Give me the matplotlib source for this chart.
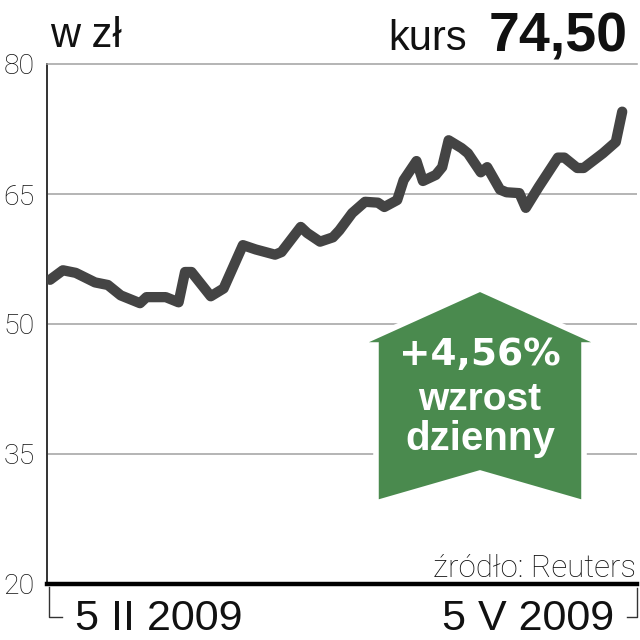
import matplotlib
matplotlib.use("Agg")
import matplotlib.pyplot as plt
from matplotlib.patches import Polygon
from matplotlib.lines import Line2D


# dni od 5 II 2009 i kurs zamkniecia
DAYS = [0, 2, 4, 7, 9, 11, 14, 15, 18, 20, 21, 22, 25, 27, 30, 32, 35, 36,
        39, 40, 42, 44, 45, 47, 49, 51, 52, 54, 55, 57, 58, 60, 61, 62, 64,
        65, 67, 68, 70, 71, 73, 74, 76, 79, 80, 82, 83, 86, 88, 89]
PRICE = [55.1, 56.2, 55.9, 54.8, 54.5, 53.3, 52.4, 53.1, 53.1, 52.5, 56.0,
         56.0, 53.2, 54.1, 59.1, 58.6, 58.0, 58.3, 61.2, 60.5, 59.5, 60.0,
         60.8, 62.8, 64.1, 64.0, 63.5, 64.3, 66.6, 68.8, 66.5, 67.2, 68.1,
         71.2, 70.3, 69.7, 67.5, 68.1, 65.5, 65.2, 65.1, 63.4, 65.8, 69.2,
         69.2, 68.0, 68.0, 69.7, 71.0, 74.5]

Y_TICKS = [20, 35, 50, 65, 80]
DATE_LABELS = ["5 II 2009", "5 V 2009"]
CHANGE = "+4,56%"
CHANGE_TEXT = ["wzrost", "dzienny"]
KURS = "74,50"

GREEN = "#4a8a4e"
LINE_COLOR = "#444444"
GRID_COLOR = "#a0a0a0"

SANS = ["Liberation Sans", "DejaVu Sans"]
NARROW = ["Liberation Sans Narrow", "Liberation Sans", "DejaVu Sans"]
LIGHT = ["Roboto", "Liberation Sans", "DejaVu Sans"]


def main():
    fig = plt.figure(figsize=(6.4, 6.4), dpi=100)
    ax = fig.add_axes([47 / 640, 56 / 640, 590 / 640, 520 / 640])

    ax.set_xlim(-0.47, 91.3)
    ax.set_ylim(20, 80)

    # siatka pozioma
    for v in Y_TICKS[1:-1]:
        ax.axhline(v, color=GRID_COLOR, lw=1.1, zorder=1)

    ax.plot(DAYS, PRICE, color=LINE_COLOR, lw=7.4, solid_joinstyle="round",
            solid_capstyle="round", zorder=3)

    ax.spines["right"].set_visible(False)
    ax.spines["top"].set_color(GRID_COLOR)
    ax.spines["top"].set_linewidth(1.1)
    ax.spines["left"].set_color("#333333")
    ax.spines["left"].set_linewidth(1.4)
    ax.spines["bottom"].set_color("black")
    ax.spines["bottom"].set_linewidth(3.2)
    ax.spines["bottom"].set_zorder(5)

    ax.set_xticks([])
    ax.set_yticks(Y_TICKS)
    ax.set_yticklabels([str(v) for v in Y_TICKS], family=LIGHT,
                       fontweight="light", fontsize=20.5, color="#111111")
    ax.tick_params(axis="y", length=0, pad=9)

    # strzalka wzrostu
    arrow_pts = [(0.7339, 0.5673), (0.9441, 0.4596), (0.9102, 0.4596),
                 (0.9102, 0.1558), (0.7339, 0.2135), (0.5576, 0.1558),
                 (0.5576, 0.4596), (0.5237, 0.4596)]
    ax.add_patch(Polygon(arrow_pts, closed=True, transform=ax.transAxes,
                         facecolor=GREEN, edgecolor="white", lw=4,
                         joinstyle="miter", zorder=2))
    ax.text(0.7339, 0.4212, CHANGE, transform=ax.transAxes, ha="center",
            va="baseline", color="white", fontsize=27, fontweight="bold",
            family=["DejaVu Sans"], zorder=4)
    ax.text(0.7339, 0.3346, CHANGE_TEXT[0], transform=ax.transAxes,
            ha="center", va="baseline", color="white", fontsize=28,
            fontweight="bold", family=NARROW, zorder=4)
    ax.text(0.7339, 0.2577, CHANGE_TEXT[1], transform=ax.transAxes,
            ha="center", va="baseline", color="white", fontsize=29,
            fontweight="bold", family=NARROW, zorder=4)

    # naglowek
    fig.text(50 / 640, 1 - 47 / 640, "w zł", family=SANS, fontsize=30,
             ha="left", va="baseline", color="#111111")
    fig.text(467 / 640, 1 - 50 / 640, "kurs", family=SANS, fontsize=30,
             ha="right", va="baseline", color="#111111")
    fig.text(628 / 640, 1 - 52 / 640, KURS, family=SANS, fontsize=40,
             fontweight="bold", ha="right", va="baseline", color="#111111")

    fig.text(636 / 640, 1 - 577 / 640, "źródło: Reuters", family=LIGHT,
             fontweight="light", fontsize=22.5, ha="right", va="baseline",
             color="#111111")

    # daty pod osia
    fig.text(75 / 640, 1 - 630 / 640, DATE_LABELS[0], family=SANS,
             fontsize=31, ha="left", va="baseline", color="#111111")
    fig.text(614 / 640, 1 - 630 / 640, DATE_LABELS[1], family=SANS,
             fontsize=31, ha="right", va="baseline", color="#111111")

    # male klamry przy datach
    fig.add_artist(Line2D([49 / 640, 49 / 640, 62 / 640],
                          [1 - 587 / 640, 1 - 617 / 640, 1 - 617 / 640],
                          color="#333333", lw=1))
    fig.add_artist(Line2D([637 / 640, 637 / 640, 627 / 640],
                          [1 - 588 / 640, 1 - 617 / 640, 1 - 617 / 640],
                          color="#333333", lw=1))

    fig.savefig("out.png", dpi=100, facecolor="white")


if __name__ == "__main__":
    main()
